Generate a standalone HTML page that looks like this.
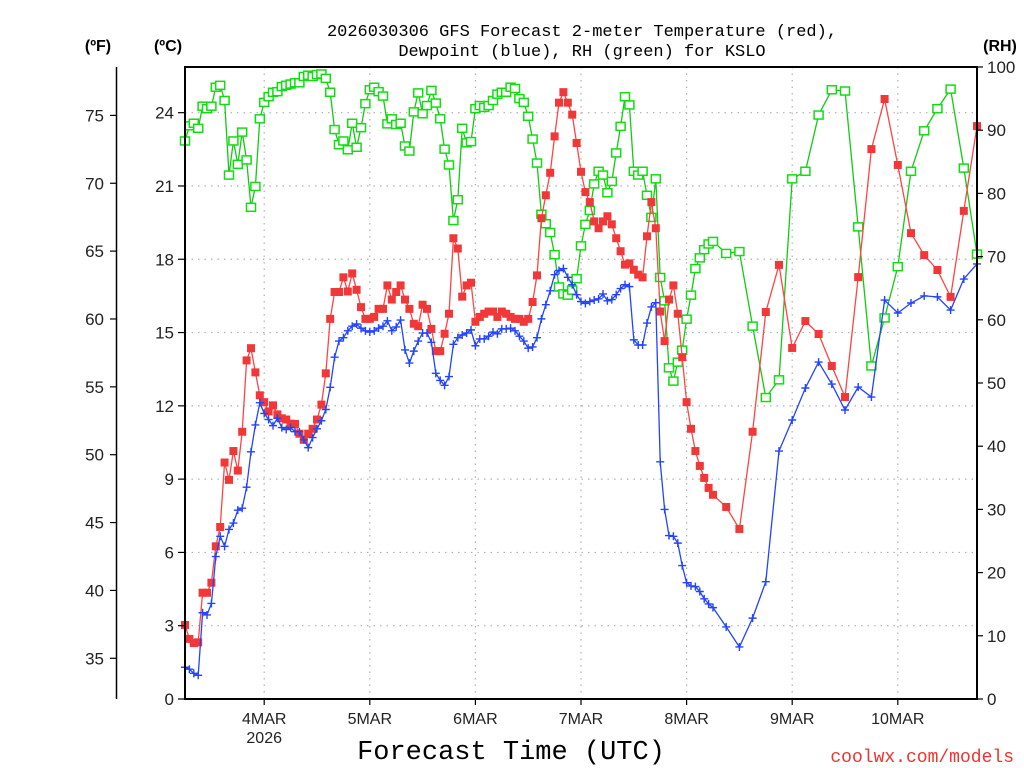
<!DOCTYPE html>
<html><head><meta charset="utf-8"><style>
html,body{margin:0;padding:0;background:#fff;width:1024px;height:768px;overflow:hidden}
svg{display:block}
text{font-family:"Liberation Sans","DejaVu Sans",sans-serif}
.mono{font-family:"Liberation Mono","DejaVu Sans Mono",monospace}
</style></head><body>
<svg id="chart" width="1024" height="768" viewBox="0 0 1024 768" xmlns="http://www.w3.org/2000/svg">
<text class="mono" x="582" y="36" font-size="17" text-anchor="middle">2026030306 GFS Forecast 2-meter Temperature (red),</text>
<text class="mono" x="582" y="56" font-size="17" text-anchor="middle">Dewpoint (blue), RH (green) for KSLO</text>
<text x="98" y="51" font-size="16" font-weight="bold" text-anchor="middle">(ºF)</text>
<text x="168" y="51" font-size="16" font-weight="bold" text-anchor="middle">(ºC)</text>
<text x="1000" y="51" font-size="16" font-weight="bold" text-anchor="middle">(RH)</text>
<text class="mono" x="511" y="759" font-size="27" text-anchor="middle">Forecast Time (UTC)</text>
<text class="mono" x="1014" y="762" font-size="18" fill="#ee3333" text-anchor="end">coolwx.com/models</text>
<g id="grid"></g><g id="series"></g><g id="axes"></g>
</svg>
<script>
const hours = [];
for (let h = 0; h <= 120; h++) hours.push(h);
for (let h = 123; h <= 180; h += 3) hours.push(h);
const dayLabels = ["4MAR","5MAR","6MAR","7MAR","8MAR","9MAR","10MAR"];
const dayHours = [18,42,66,90,114,138,162];
const celsiusTicks = [0,3,6,9,12,15,18,21,24];
const fahrenheitTicks = [35,40,45,50,55,60,65,70,75];
const rhTicks = [0,10,20,30,40,50,60,70,80,90,100];
const tempC = [3.03,2.46,2.29,2.32,4.35,4.35,4.76,6.25,7.04,9.68,8.97,10.15,9.35,10.94,13.86,14.36,13.37,12.43,12.15,11.77,12.02,11.65,11.49,11.44,11.27,11.26,10.86,10.61,10.86,11.06,11.44,12.05,13.33,15.56,16.66,16.66,17.26,16.68,17.42,16.75,16.04,15.56,15.56,15.64,15.97,
15.97,16.93,16.35,16.66,16.93,16.35,15.97,15.36,15.26,16.14,15.97,15.15,14.24,14.24,14.95,15.77,18.86,18.44,16.47,16.93,17.04,15.44,15.64,15.77,15.86,15.86,15.64,15.86,15.77,15.64,15.56,15.56,15.44,15.56,16.25,17.34,19.68,20.62,21.54,23.03,24.41,24.84,24.41,23.92,22.76,21.58,
20.75,20.34,19.55,19.27,19.55,19.76,19.43,18.86,18.33,17.78,17.83,17.57,17.37,17.26,18.94,20.34,19.27,15.86,14.65,16.35,16.93,15.77,13.99,12.15,11.06,10.15,9.54,9.05,8.64,8.36,
7.86,6.96,10.94,15.84,17.77,14.37,15.47,14.94,13.63,12.36,17.27,22.51,24.56,21.86,19.07,18.17,17.56,16.46,19.98,23.45];
const dewC = [1.30,1.22,1.05,0.97,3.53,3.44,3.91,5.83,6.66,6.25,6.94,7.20,7.73,7.81,8.67,10.12,11.22,12.13,11.69,11.44,11.19,11.49,11.11,11.03,11.11,10.94,10.94,10.61,10.29,10.70,11.06,11.39,11.85,12.76,13.99,14.65,14.79,15.07,15.26,15.35,15.18,15.07,15.02,15.07,15.18,
15.26,15.48,15.07,15.23,15.51,14.29,13.75,14.24,14.65,14.98,14.98,14.60,13.33,13.04,12.84,13.20,14.52,14.79,14.90,14.98,15.11,14.46,14.74,14.74,14.85,15.02,14.95,15.15,15.15,15.18,15.07,14.85,14.65,14.36,14.41,14.79,15.56,16.14,16.71,17.37,17.54,17.62,17.26,16.96,16.55,
16.27,16.19,16.27,16.33,16.38,16.58,16.30,16.35,16.55,16.80,16.96,16.88,14.70,14.49,14.49,15.39,16.05,16.22,9.71,7.76,6.69,6.66,6.38,5.46,4.76,4.63,4.60,4.40,4.10,3.89,3.74,
2.95,2.13,3.31,4.80,10.15,11.42,12.73,13.79,12.89,11.83,12.77,12.36,16.33,15.80,16.21,16.50,16.46,15.92,17.19,17.81];
const rh = [88.3,90.7,91.1,90.3,93.8,93.4,93.8,96.8,97.1,94.7,82.9,88.3,84.6,89.7,85.3,77.8,81.1,91.8,94.4,95.3,96.0,96.1,96.9,97.1,97.3,97.5,97.5,98.5,98.7,98.5,98.8,98.9,98.2,96.0,90.1,87.7,88.3,86.9,91.1,87.3,90.4,94.2,96.4,96.8,96.1,95.4,
91.0,91.8,90.9,91.1,87.5,86.7,92.9,95.9,92.6,93.9,96.3,94.3,91.8,87.0,84.5,75.7,79.0,90.3,88.0,88.2,93.4,93.9,93.6,93.9,94.7,95.7,96.0,96.0,96.8,96.6,95.0,94.4,92.2,88.6,84.8,76.7,75.2,73.8,70.3,65.2,64.1,63.9,64.7,66.5,71.7,
75.1,77.3,81.5,83.5,82.9,80.1,81.9,86.4,90.6,95.3,94.0,83.5,82.9,83.5,79.7,76.2,82.3,66.7,63.0,52.4,50.3,53.3,55.2,60.1,63.9,68.1,69.8,71.1,72.0,72.4,
70.5,70.8,59.0,47.7,50.5,82.3,83.5,92.4,96.4,96.2,74.7,52.7,60.3,68.4,83.5,89.9,93.4,96.5,84.0,70.4];

const X0=185,X1=977,Y0=699,Y1=67;
const xs = h => X0 + (h/180)*(X1-X0);
const yC = c => Y0 - c*24.43;
const yF = f => yC((f-32)*5/9);
const yRH = r => Y0 - r*(Y0-Y1)/100;
const NS="http://www.w3.org/2000/svg";
function mk(parent, tag, attrs){const e=document.createElementNS(NS,tag);for(const k in attrs)e.setAttribute(k,attrs[k]);parent.appendChild(e);return e;}
const grid=document.getElementById('grid'), ser=document.getElementById('series'), ax=document.getElementById('axes');

celsiusTicks.forEach(c=>{ if(c===0) return;
  const l=mk(grid,'line',{x1:X0,x2:X1,y1:yC(c),y2:yC(c),stroke:'#b0b0b0','stroke-width':1.2,'stroke-dasharray':'1.5 5'});
   
});
dayHours.forEach(h=>{
  const l=mk(grid,'line',{x1:xs(h),x2:xs(h),y1:Y1,y2:Y0,stroke:'#b0b0b0','stroke-width':1.2,'stroke-dasharray':'1.5 5'});
   
});

function pts(vals,yf){return vals.map((v,i)=>xs(hours[i]).toFixed(1)+','+yf(v).toFixed(1)).join(' ');}
const gG=mk(ser,'g',{});  
mk(gG,'polyline',{points:pts(rh,yRH),fill:'none',stroke:'#11cc11','stroke-width':1.3});
rh.forEach((v,i)=>{const r=mk(gG,'rect',{x:xs(hours[i])-4.5,y:yRH(v)-4,width:9,height:8,fill:'#fff',stroke:'#11dd11','stroke-width':1.5});
   });
const gT=mk(ser,'g',{});  
mk(gT,'polyline',{points:pts(tempC,yC),fill:'none',stroke:'#ff4444','stroke-width':1.3});
tempC.forEach((v,i)=>{const r=mk(gT,'rect',{x:xs(hours[i])-4,y:yC(v)-4,width:8,height:8,fill:'#f03838'});
   });
const gD=mk(ser,'g',{});  
mk(gD,'polyline',{points:pts(dewC,yC),fill:'none',stroke:'#2244ff','stroke-width':1.3});
dewC.forEach((v,i)=>{const x=xs(hours[i]),y=yC(v);
  const p=mk(gD,'path',{d:`M${x-4} ${y}H${x+4}M${x} ${y-4}V${y+4}`,stroke:'#2244ff','stroke-width':1.4,fill:'none'});
   });

const fr=mk(ax,'rect',{x:X0,y:Y1,width:X1-X0,height:Y0-Y1,fill:'none',stroke:'#000','stroke-width':2});
 
const fl=mk(ax,'line',{x1:116.5,x2:116.5,y1:Y1,y2:Y0,stroke:'#000','stroke-width':1.5});
 
fahrenheitTicks.forEach(f=>{const y=yF(f);
  mk(ax,'line',{x1:110,x2:116,y1:y,y2:y,stroke:'#000','stroke-width':1.2});
  const t=mk(ax,'text',{x:104,y:y+6,'font-size':17,'text-anchor':'end',fill:'#222'}); t.textContent=f;
   });
celsiusTicks.forEach(c=>{const y=yC(c);
  mk(ax,'line',{x1:178,x2:185,y1:y,y2:y,stroke:'#000','stroke-width':1.2});
  const t=mk(ax,'text',{x:174,y:y+6,'font-size':17,'text-anchor':'end',fill:'#222'}); t.textContent=c;
   });
rhTicks.forEach(r=>{const y=yRH(r);
  mk(ax,'line',{x1:977,x2:983,y1:y,y2:y,stroke:'#000','stroke-width':1.2});
  const t=mk(ax,'text',{x:987,y:y+6,'font-size':17,'text-anchor':'start',fill:'#222'}); t.textContent=r;
   });
dayHours.forEach((h,i)=>{const x=xs(h);
  mk(ax,'line',{x1:x,x2:x,y1:Y0,y2:Y0+6,stroke:'#000','stroke-width':1.2});
  const t=mk(ax,'text',{x:x,y:724,'font-size':16,'text-anchor':'middle',fill:'#222'}); t.textContent=dayLabels[i];
   });
const yr=mk(ax,'text',{x:xs(dayHours[0]),y:743,'font-size':16,'text-anchor':'middle',fill:'#222'}); yr.textContent='2026';
 
</script>
</body></html>
